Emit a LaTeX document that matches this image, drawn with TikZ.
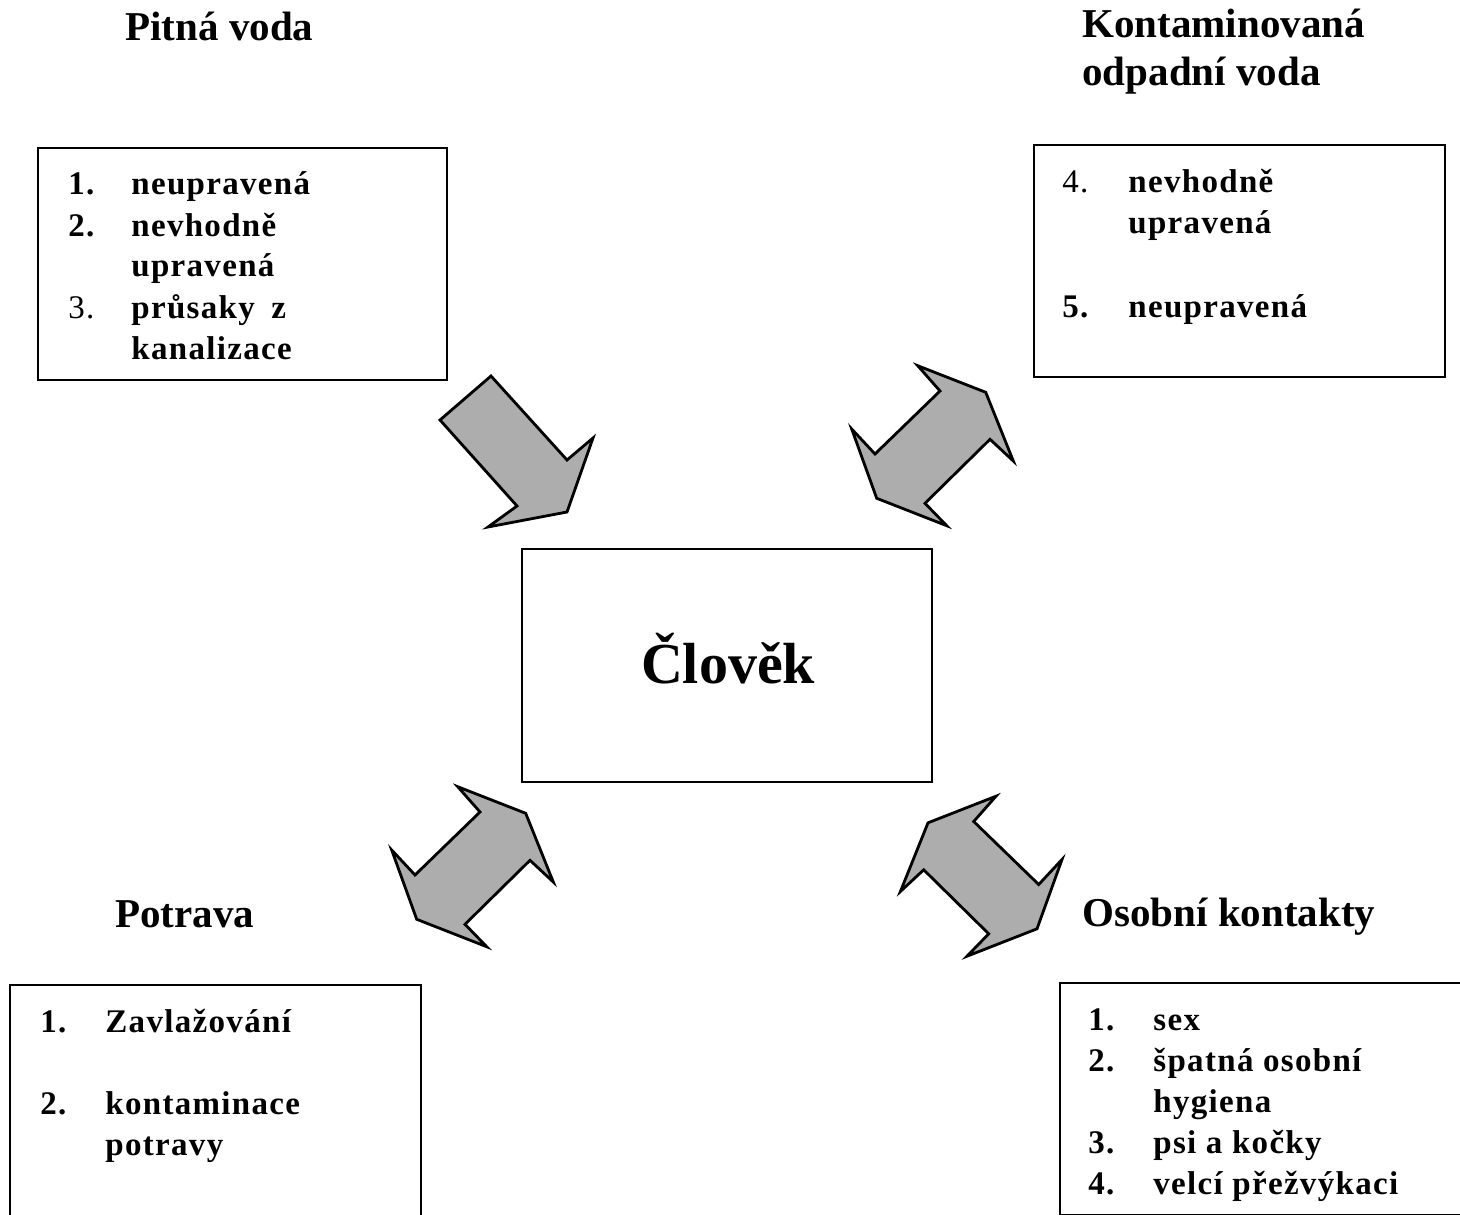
\documentclass[tikz,border=0pt]{standalone}
\usepackage{fontspec}
\setmainfont{Liberation Serif}
\newfontfamily\spacedfont[LetterSpace=4]{Liberation Serif}

\tikzset{
  box/.style={draw, line width=1.2pt, inner sep=0pt},
  title/.style={anchor=base west, inner sep=0pt, align=left, font=\fontsize{20.5}{24}\selectfont\bfseries},
  item/.style={anchor=base west, inner sep=0pt, font=\spacedfont\fontsize{16.5}{20.5}\selectfont\bfseries},
  arrowshape/.style={fill=black!32, draw=black, line width=1.4pt, line join=miter},
  dblarrow/.pic={
    \filldraw[arrowshape] (-13.5,-79.6) -- (8.8,-54.3) -- (-56.2,8.7) -- (-79.5,-16.3)
      -- (-54.5,53) -- (15.5,80.4) -- (-6.2,58) -- (58.8,-6) -- (82.1,15.7)
      -- (54.5,-53) -- cycle;
  }
}

\begin{document}
\begin{tikzpicture}[x=0.5pt, y=-0.5pt]
  \useasboundingbox (0,0) rectangle (1460,1214);

  % titles
  \node[title] (pitna) at (125,41) {Pitná voda};
  \node[title] (odpad) at (1082,86) {Kontaminovaná\\odpadní voda};
  \node[title] (potrava) at (115,927) {Potrava};
  \node[title] (kontakt) at (1082,926) {Osobní kontakty};

  % boxes
  \node[box, minimum width=204.5pt, minimum height=116pt] (pitbox) at (242.5,264) {};
  \node[box, minimum width=205.5pt, minimum height=116pt] (odpbox) at (1239.5,261) {};
  \node[box, minimum width=205.5pt, minimum height=116pt] (potbox) at (215.5,1101) {};
  \node[box, minimum width=205.5pt, minimum height=116pt] (konbox) at (1265.5,1099) {};
  \node[box, minimum width=205pt, minimum height=116.5pt] (clovek) at (727,665.5) {};
  \node[anchor=base, inner sep=0pt, font=\fontsize{29}{34}\selectfont\bfseries] (clovektxt) at (728,683) {Člověk};

  % lists
  \foreach \y/\n/\t [count=\i] in {195/1./neupravená, 236/2./nevhodně, 277//upravená,
      318/{\mdseries 3.}/{průsaky\hspace{0.5em}z}, 359//kanalizace}{
    \node[item] (pn\i) at (68,\y) {\n};
    \node[item] (pt\i) at (131,\y) {\t};
  }
  \foreach \y/\n/\t [count=\i] in {193/{\mdseries 4.}/nevhodně, 234//upravená, 317/5./neupravená}{
    \node[item] (on\i) at (1062,\y) {\n};
    \node[item] (ot\i) at (1128,\y) {\t};
  }
  \foreach \y/\n/\t [count=\i] in {1032/1./Zavlažování, 1114/2./kontaminace, 1155//potravy}{
    \node[item] (fn\i) at (40,\y) {\n};
    \node[item] (ft\i) at (105,\y) {\t};
  }
  \foreach \y/\n/\t [count=\i] in {1030/1./sex, 1071/2./špatná osobní, 1112//hygiena,
      1153/3./psi a kočky, 1194/4./velcí přežvýkaci}{
    \node[item] (kn\i) at (1088,\y) {\n};
    \node[item] (kt\i) at (1153,\y) {\t};
  }

  % block arrows
  \filldraw[arrowshape] (491,376) -- (440,420) -- (517,506) -- (488,527)
    -- (567,512) -- (593,438) -- (567,460) -- cycle;
  \pic at (931.2,445.3) {dblarrow};
  \pic at (471.2,866.3) {dblarrow};
  \pic[xscale=-1] at (982.5,875.8) {dblarrow};
\end{tikzpicture}
\end{document}
